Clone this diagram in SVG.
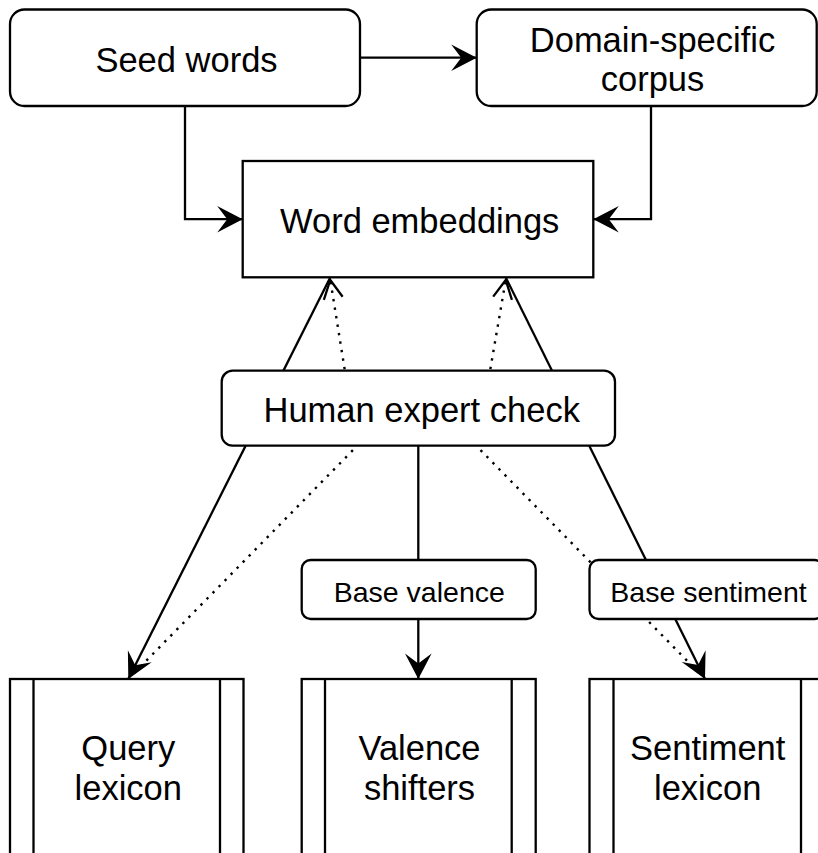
<svg xmlns="http://www.w3.org/2000/svg" width="818" height="853" viewBox="0 0 818 853">
<style>
  .box { fill: #ffffff; stroke: #000000; stroke-width: 2.3; }
  .edge { fill: none; stroke: #000000; stroke-width: 2.3; }
  .dot { fill: none; stroke: #000000; stroke-width: 2.4; stroke-dasharray: 2.4 6.2; }
  .t { font-family: "Liberation Sans", Arial, Helvetica, sans-serif; font-size: 34.5px; fill: #000000; text-anchor: middle; }
  .s { font-family: "Liberation Sans", Arial, Helvetica, sans-serif; font-size: 28.5px; fill: #000000; text-anchor: middle; }
</style>
<defs>
  <marker id="classic" markerUnits="userSpaceOnUse" markerWidth="30" markerHeight="30" refX="0" refY="0" orient="auto" overflow="visible">
    <path d="M0,0 L-25.5,-13.3 L-15.5,0 L-25.5,13.3 Z" fill="#000000"/>
  </marker>
  <marker id="open" markerUnits="userSpaceOnUse" markerWidth="30" markerHeight="30" refX="0" refY="0" orient="auto" overflow="visible">
    <path d="M-18.5,-9.5 L0,0 L-18.5,9.5" fill="none" stroke="#000000" stroke-width="2.3"/>
  </marker>
</defs>
<rect width="818" height="853" fill="#ffffff"/>

<g id="connectors">
  <path class="edge" d="M360,57.7 L476.7,57.7" marker-end="url(#classic)"/>
  <path class="edge" d="M185,106 L185,219.2 L242.7,219.2" marker-end="url(#classic)"/>
  <path class="edge" d="M651,106 L651,219.2 L593.3,219.2" marker-end="url(#classic)"/>
  <path class="edge" d="M330,278 L128.3,679" marker-end="url(#classic)"/>
  <path class="dot" d="M128.3,679 L357,446 L330.3,280" marker-end="url(#open)"/>
  <path class="edge" d="M506,278 L705,679" marker-end="url(#classic)"/>
  <path class="dot" d="M705,679 L477,446.5 L505.7,280" marker-end="url(#open)"/>
  <path class="edge" d="M418.3,446 L418.3,679" marker-end="url(#classic)"/>
</g>

<g id="seed-words">
  <rect class="box" x="10" y="9.5" width="350" height="96.5" rx="14.5" ry="14.5"/>
  <text class="t" x="186.5" y="71.5">Seed words</text>
</g>
<g id="domain-corpus">
  <rect class="box" x="476.7" y="9.5" width="340" height="96.5" rx="14.5" ry="14.5"/>
  <text class="t" x="652.5" y="51.5">Domain-specific</text>
  <text class="t" x="652.5" y="91">corpus</text>
</g>
<g id="word-embeddings">
  <rect class="box" x="242.7" y="161" width="350.6" height="116.3"/>
  <text class="t" x="419.7" y="232.7">Word embeddings</text>
</g>
<g id="human-expert-check">
  <rect class="box" x="221.7" y="370.7" width="393.3" height="75" rx="11" ry="11"/>
  <text class="t" x="421.7" y="421.7">Human expert check</text>
</g>
<g id="base-valence">
  <rect class="box" x="301.7" y="560" width="234" height="59" rx="9" ry="9"/>
  <text class="s" x="419.3" y="601.5">Base valence</text>
</g>
<g id="base-sentiment">
  <rect class="box" x="589.5" y="560" width="234" height="59" rx="9" ry="9"/>
  <text class="s" x="708.5" y="601.5">Base sentiment</text>
</g>
<g id="query-lexicon">
  <rect class="box" x="10" y="679" width="233.5" height="240"/>
  <line class="edge" x1="33.5" y1="679" x2="33.5" y2="919"/>
  <line class="edge" x1="220" y1="679" x2="220" y2="919"/>
  <text class="t" x="128.3" y="760">Query</text>
  <text class="t" x="128.3" y="800">lexicon</text>
</g>
<g id="valence-shifters">
  <rect class="box" x="301.7" y="679" width="234" height="240"/>
  <line class="edge" x1="325" y1="679" x2="325" y2="919"/>
  <line class="edge" x1="511.7" y1="679" x2="511.7" y2="919"/>
  <text class="t" x="419.5" y="760">Valence</text>
  <text class="t" x="419.5" y="800">shifters</text>
</g>
<g id="sentiment-lexicon">
  <rect class="box" x="589.5" y="679" width="234" height="240"/>
  <line class="edge" x1="613.5" y1="679" x2="613.5" y2="919"/>
  <line class="edge" x1="801" y1="679" x2="801" y2="919"/>
  <text class="t" x="707.7" y="760">Sentiment</text>
  <text class="t" x="707.7" y="800">lexicon</text>
</g>
</svg>
